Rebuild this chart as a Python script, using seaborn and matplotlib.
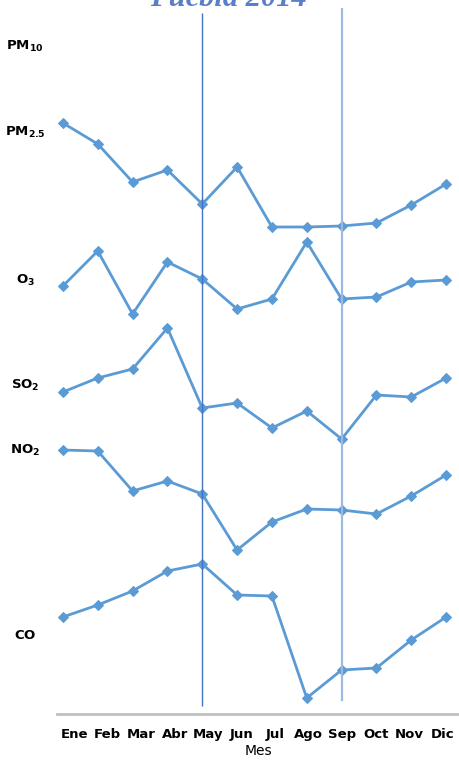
import pandas as pd
import seaborn as sns
import matplotlib.pyplot as plt

# Monthly relative levels per pollutant (stacked, unitless)
meses = ['Ene', 'Feb', 'Mar', 'Abr', 'May', 'Jun', 'Jul', 'Ago', 'Sep', 'Oct', 'Nov', 'Dic']
pm25 = [591, 570, 532, 544, 510, 547, 487, 487, 488, 491, 509, 530]
o3 = [428, 463, 400, 452, 435, 405, 415, 472, 415, 417, 432, 434]
so2 = [322, 336, 345, 386, 306, 311, 286, 303, 275, 319, 317, 336]
no2 = [264, 263, 223, 233, 220, 164, 192, 205, 204, 200, 218, 239]
co = [97, 109, 123, 143, 150, 119, 118, 16, 44, 46, 74, 97]

etiquetas = [r'$\mathbf{PM_{10}}$', r'$\mathbf{PM_{2.5}}$', r'$\mathbf{O_3}$',
             r'$\mathbf{SO_2}$', r'$\mathbf{NO_2}$', r'$\mathbf{CO}$']
pos_etiquetas = [670, 584, 436, 331, 266, 80]

series = {'PM2.5': pm25, 'O3': o3, 'SO2': so2, 'NO2': no2, 'CO': co}
rows = []
for nombre, vals in series.items():
    for i, v in enumerate(vals):
        rows.append({'serie': nombre, 'mes': i, 'valor': v})
df = pd.DataFrame(rows)

sns.set_style('white')
plt.rcParams['mathtext.fontset'] = 'dejavusans'
plt.rcParams['text.color'] = 'black'
plt.rcParams['xtick.color'] = 'black'
plt.rcParams['ytick.color'] = 'black'
plt.rcParams['axes.labelcolor'] = 'black'

fig = plt.figure(figsize=(4.59, 7.61), dpi=100)
ax = fig.add_axes([57 / 459, 47 / 761, 402 / 459, 714 / 761])

azul = '#5B9BD5'
sns.lineplot(data=df, x='mes', y='valor', hue='serie', units='serie', estimator=None,
             palette=[azul] * len(series), marker='D', markersize=5.5, markeredgecolor=azul,
             linewidth=2, legend=False, ax=ax)

# reference lines at May and Sep
ax.vlines(4, 8, 701, color='#4472C4', linewidth=1)
ax.vlines(8, 13, 706, color='#9DB9DF', linewidth=1.6)

ax.set_xlim(-0.17, 11.37)
ax.set_ylim(0, 714)
ax.set_xticks([])
ax.set_xlabel('')
ax.set_ylabel('')

ax.set_yticks(pos_etiquetas, etiquetas)
ax.tick_params(axis='y', length=0, pad=23, labelsize=9.5)
for lab in ax.get_yticklabels():
    lab.set_ha('center')

for s in ['top', 'right', 'left']:
    ax.spines[s].set_visible(False)
ax.spines['bottom'].set_color('#BFBFBF')
ax.spines['bottom'].set_linewidth(2)

# category labels axis (offset like the original)
ax2 = ax.twiny()
ax2.xaxis.set_ticks_position('bottom')
ax2.xaxis.set_label_position('bottom')
ax2.set_xlim(-0.507, 11.477)
ax2.set_xticks(range(len(meses)), meses, fontweight='bold', fontsize=9.5)
ax2.tick_params(axis='x', length=0, pad=10)
ax2.set_xlabel('Mes', fontsize=10, labelpad=2)
for s in ax2.spines.values():
    s.set_visible(False)

fig.text(228 / 459, 1 - 6 / 761, 'Puebla 2014', ha='center', va='baseline',
         fontsize=22, fontstyle='italic', fontweight='bold', color='#5B7FC7',
         family='Liberation Serif')

fig.savefig('out.png', dpi=100)
